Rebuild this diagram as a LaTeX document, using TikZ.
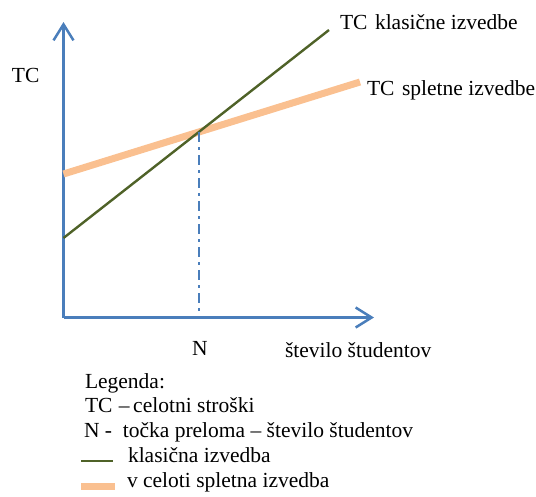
\documentclass[tikz,border=0pt]{standalone}
\usepackage{fontspec}
\setmainfont{Liberation Serif}
\usetikzlibrary{arrows.meta}
\definecolor{axisblue}{HTML}{4A7EBB}
\definecolor{classicgreen}{HTML}{4F6228}
\definecolor{webpeach}{HTML}{FAC090}
\begin{document}
\begin{tikzpicture}[x=1pt,y=-1pt,
  every node/.style={inner sep=0pt,outer sep=0pt,font=\fontsize{21.5}{25}\selectfont},
  lbl/.style={anchor=base west},
  axisline/.style={axisblue,line width=2.5pt,-{Straight Barb[length=16pt,width=20pt,line width=2.5pt]}},
  classicline/.style={classicgreen,line width=2.4pt},
  webline/.style={webpeach,line width=7pt},
  guideline/.style={axisblue,line width=2.5pt,dash pattern=on 10pt off 5pt on 3pt off 5pt}]
\useasboundingbox (0,0) rectangle (536,496);
% axes
\coordinate (O) at (63.5,317.5);
\coordinate (ytop) at (63.5,22);
\coordinate (xend) at (374,317.5);
\draw[axisline] (O) -- (ytop);
\draw[axisline] (O) -- (xend);
% cost lines
\coordinate (g1) at (63.5,238);
\coordinate (g2) at (329,30);
\coordinate (o1) at (63.5,174);
\coordinate (o2) at (360,82);
\draw[webline] (o1) -- (o2);
\draw[classicline] (g1) -- (g2);
% break-even point
\coordinate (bp) at (intersection of g1--g2 and o1--o2);
\draw[guideline] (bp) -- (bp |- O);
% labels
\node[lbl] (tc) at (12,82) {TC};
\node[anchor=base] (n) at (200,355) {N};
\node[lbl] (st) at (285,357) {število študentov};
\node[lbl] (tck) at (340,29) {TC\hspace{0.35em}klasične izvedbe};
\node[lbl] (tcs) at (367,95) {TC\hspace{0.35em}spletne izvedbe};
% legend
\node[lbl] (leg) at (85,388) {Legenda:};
\node[lbl] (leg1) at (85,412.5) {TC\hspace{0.3em}–\,celotni stroški};
\node[lbl] (leg2) at (84,437.5) {N -\hspace{0.5em}točka preloma – število študentov};
\coordinate (lg1) at (81,461);
\coordinate (lg2) at (113,461);
\draw[classicline] (lg1) -- (lg2);
\node[lbl] (leg3) at (128,462) {klasična izvedba};
\coordinate (lo1) at (81,486.5);
\coordinate (lo2) at (115,486.5);
\draw[webline] (lo1) -- (lo2);
\node[lbl] (leg4) at (127,487) {v celoti spletna izvedba};
\end{tikzpicture}
\end{document}
